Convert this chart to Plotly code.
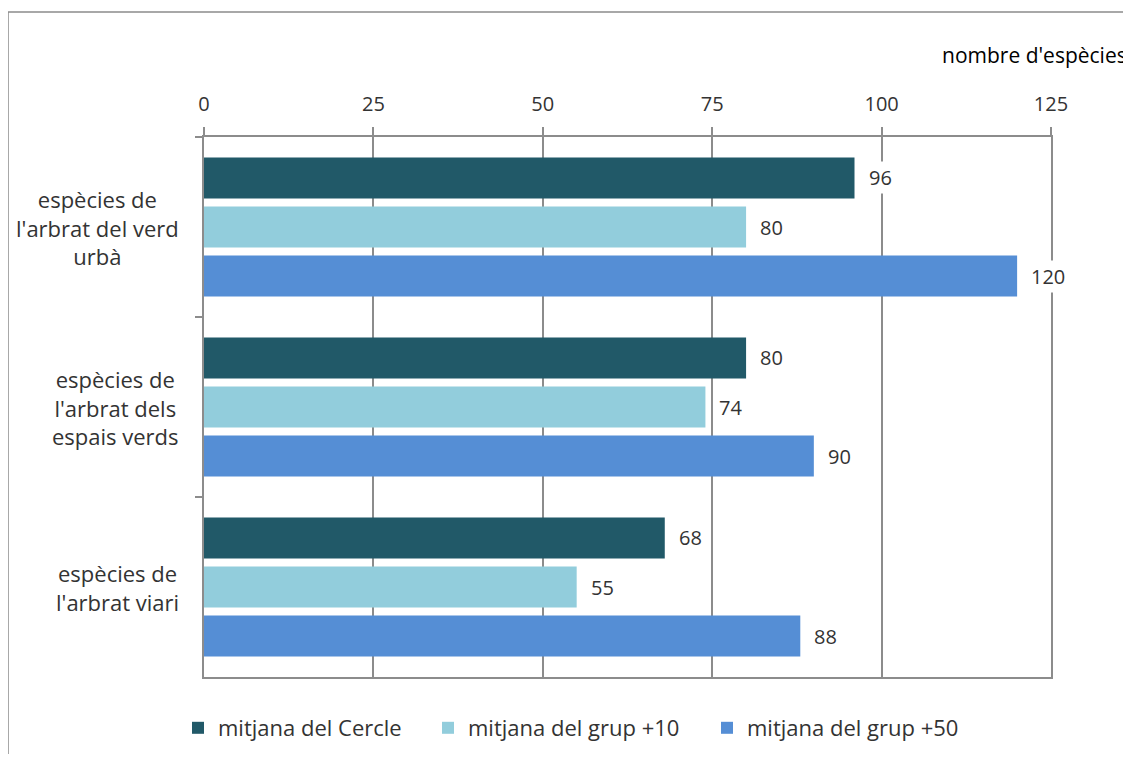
import plotly.graph_objects as go

categories = ["espècies de<br>l'arbrat del verd<br>urbà",
              "espècies de<br>l'arbrat dels<br>espais verds",
              "espècies de<br>l'arbrat viari"]
series_names = ["mitjana del Cercle", "mitjana del grup +10", "mitjana del grup +50"]
cercle = [96, 80, 68]
grup10 = [80, 74, 55]
grup50 = [120, 90, 88]
x_ticks = [0, 25, 50, 75, 100, 125]
axis_title = "nombre d'espècies"

colors = ["#215968", "#92CDDC", "#558ED5"]
FONT = "Open Sans"
TXT = "#333333"
GRID = "#8c8c8c"

OX, OY = 8, 8  # default page body margin
W, H = 1131 - 2 * OX, 762 - 2 * OY
ML = 204 - OX
MT = 137 - OY
MR = W - (1051 - OX)
MB = H - (677 - OY)
pw = W - ML - MR
ph = H - MT - MB


def px(x):
    return (x - OX - ML) / pw


def py(y):
    return (H - MB - (y - OY)) / ph


legend_ids = ["legend", "legend2", "legend3"]
legend_x = [178, 428, 707]

fig = go.Figure()
all_vals = [cercle, grup10, grup50]
for name, vals, c, lid in zip(series_names, all_vals, colors, legend_ids):
    fig.add_trace(go.Bar(y=categories, x=vals, name=name, orientation="h",
                         legend=lid, showlegend=True,
                         marker=dict(color=c, line=dict(width=0))))

slot = ph / len(categories) * (1 - 0.183) / 3
shifts = [slot, 0, -slot]
annotations = []
for vals, sh in zip(all_vals, shifts):
    for cat, v in zip(categories, vals):
        annotations.append(dict(x=v, y=cat, xref="x", yref="y", text=str(v),
                                showarrow=False, xanchor="left", yanchor="middle",
                                xshift=11, yshift=sh, bgcolor="white", borderpad=2,
                                font=dict(family=FONT, size=20, color=TXT)))
for cat in categories:
    annotations.append(dict(x=px(181), y=cat, xref="paper", yref="y", text=cat,
                            showarrow=False, xanchor="right", yanchor="middle",
                            align="center",
                            font=dict(family=FONT, size=22, color=TXT)))
annotations.append(dict(x=px(940), y=py(55), xref="paper", yref="paper",
                        text=axis_title, showarrow=False, xanchor="left", yanchor="middle",
                        font=dict(family=FONT, size=21, color="#000000")))

leg_y = 1 - (728 - OY) / H
legend_common = dict(orientation="h", yanchor="middle", xanchor="left",
                     yref="container", y=leg_y,
                     font=dict(family=FONT, size=22, color=TXT), bgcolor="rgba(0,0,0,0)")

fig.update_layout(
    width=W, height=H,
    margin=dict(l=ML, r=MR, t=MT, b=MB, autoexpand=False),
    showlegend=True,
    paper_bgcolor="white", plot_bgcolor="white",
    barmode="group", bargap=0.183, bargroupgap=0.163,
    font=dict(family=FONT, size=21, color=TXT),
    xaxis=dict(side="top", range=[0, 125], tickvals=x_ticks,
               showgrid=True, gridcolor=GRID, gridwidth=1.5,
               showline=True, linecolor=GRID, linewidth=1.5, mirror=True,
               ticks="outside", ticklen=8, tickcolor=GRID, tickwidth=1.5,
               ticklabelstandoff=8,
               tickfont=dict(family=FONT, size=20, color=TXT), zeroline=False,
               fixedrange=True),
    yaxis=dict(categoryorder="array", categoryarray=categories, autorange="reversed",
               showticklabels=False, showline=True, linecolor=GRID, linewidth=1.5,
               mirror=True, ticks="outside", tickson="boundaries", ticklen=7,
               tickcolor=GRID, tickwidth=1.5, showgrid=False),
    legend=dict(x=px(legend_x[0]), **legend_common),
    legend2=dict(x=px(legend_x[1]), **legend_common),
    legend3=dict(x=px(legend_x[2]), **legend_common),
    annotations=annotations,
    shapes=[dict(type="rect", xref="paper", yref="paper",
                 x0=px(8), x1=px(1145), y0=py(775), y1=py(12),
                 line=dict(color="#8c8c8c", width=1.5), layer="below")],
)

fig.write_html("out.html")
